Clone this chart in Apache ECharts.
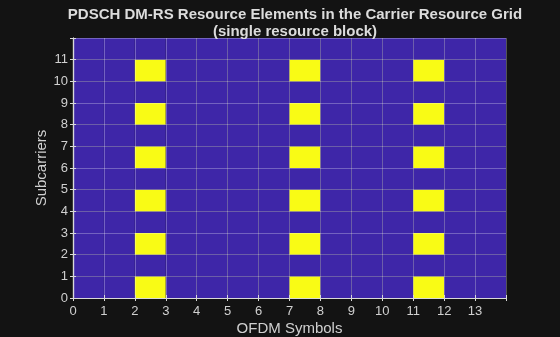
<!DOCTYPE html>
<html><head><meta charset="utf-8">
<script src="https://cdn.jsdelivr.net/npm/echarts@6/dist/echarts.min.js"></script>
<style>html,body{margin:0;padding:0;background:#131313}#c{width:560px;height:337px}</style>
</head><body><div id="c"></div>
<script>
var numSymbols = 14;
var numSubcarriers = 12;
var dmrsSymbols = [2, 7, 11];
var dmrsSubcarriers = [0, 2, 4, 6, 8, 10];
var xTickLabels = ['0','1','2','3','4','5','6','7','8','9','10','11','12','13'];
var yTickLabels = ['0','1','2','3','4','5','6','7','8','9','10','11'];

var cells = [];
for (var s = 0; s < numSymbols; s++) {
  for (var k = 0; k < numSubcarriers; k++) {
    var v = (dmrsSymbols.indexOf(s) >= 0 && dmrsSubcarriers.indexOf(k) >= 0) ? 1 : 0;
    cells.push([s, k, v]);
  }
}
var FONT = 'Liberation Sans';
var TXT = '#d0d0d0';
var chart = echarts.init(document.getElementById('c'));
function axisCommon(extra) {
  return Object.assign({
    type: 'value', interval: 1,
    nameMoveOverlap: false,
    axisLine: { show: true, lineStyle: { color: '#d9d9d9', width: 1.2 } },
    axisTick: { show: true, inside: true, length: 3, lineStyle: { color: '#d9d9d9' } },
    splitLine: { show: false }
  }, extra);
}
chart.setOption({
  backgroundColor: '#131313',
  animation: false,
  title: {
    text: 'PDSCH DM-RS Resource Elements in the Carrier Resource Grid\n(single resource block)',
    left: 290, top: 1, textAlign: 'center',
    textStyle: { color: '#dcdcdc', fontFamily: FONT, fontSize: 15, fontWeight: 'bold', lineHeight: 17 }
  },
  grid: { left: 73, right: 54, top: 38, bottom: 39, containLabel: false, outerBoundsMode: 'none' },
  xAxis: [
    axisCommon({ min: 0, max: numSymbols, position: 'bottom',
      axisLabel: { color: TXT, fontFamily: FONT, fontSize: 13, margin: 7,
        formatter: function (v) { return xTickLabels[v] !== undefined ? xTickLabels[v] : ''; } },
      splitLine: { show: true, lineStyle: { color: 'rgba(255,255,255,0.28)', width: 1 } },
      name: 'OFDM Symbols', nameLocation: 'middle', nameGap: 23,
      nameTextStyle: { color: TXT, fontFamily: FONT, fontSize: 15 } }),
    axisCommon({ min: 0, max: numSymbols, position: 'top', axisLabel: { show: false } })
  ],
  yAxis: [
    axisCommon({ min: 0, max: numSubcarriers, position: 'left',
      axisLabel: { color: TXT, fontFamily: FONT, fontSize: 13, margin: 5,
        formatter: function (v) { return yTickLabels[v] !== undefined ? yTickLabels[v] : ''; } },
      splitLine: { show: true, lineStyle: { color: 'rgba(255,255,255,0.28)', width: 1 } },
      name: 'Subcarriers', nameLocation: 'middle', nameGap: 24,
      nameTextStyle: { color: TXT, fontFamily: FONT, fontSize: 15 } }),
    axisCommon({ min: 0, max: numSubcarriers, position: 'right', axisLabel: { show: false } })
  ],
  series: [{
    type: 'custom',
    z: -1,
    data: cells,
    renderItem: function (params, api) {
      var p0 = api.coord([api.value(0), api.value(1)]);
      var p1 = api.coord([api.value(0) + 1, api.value(1) + 1]);
      return {
        type: 'rect',
        shape: { x: p0[0], y: p1[1], width: p1[0] - p0[0], height: p0[1] - p1[1] },
        style: { fill: api.value(2) ? '#f9fb15' : '#3e26a8' }
      };
    }
  }]
});
</script></body></html>
